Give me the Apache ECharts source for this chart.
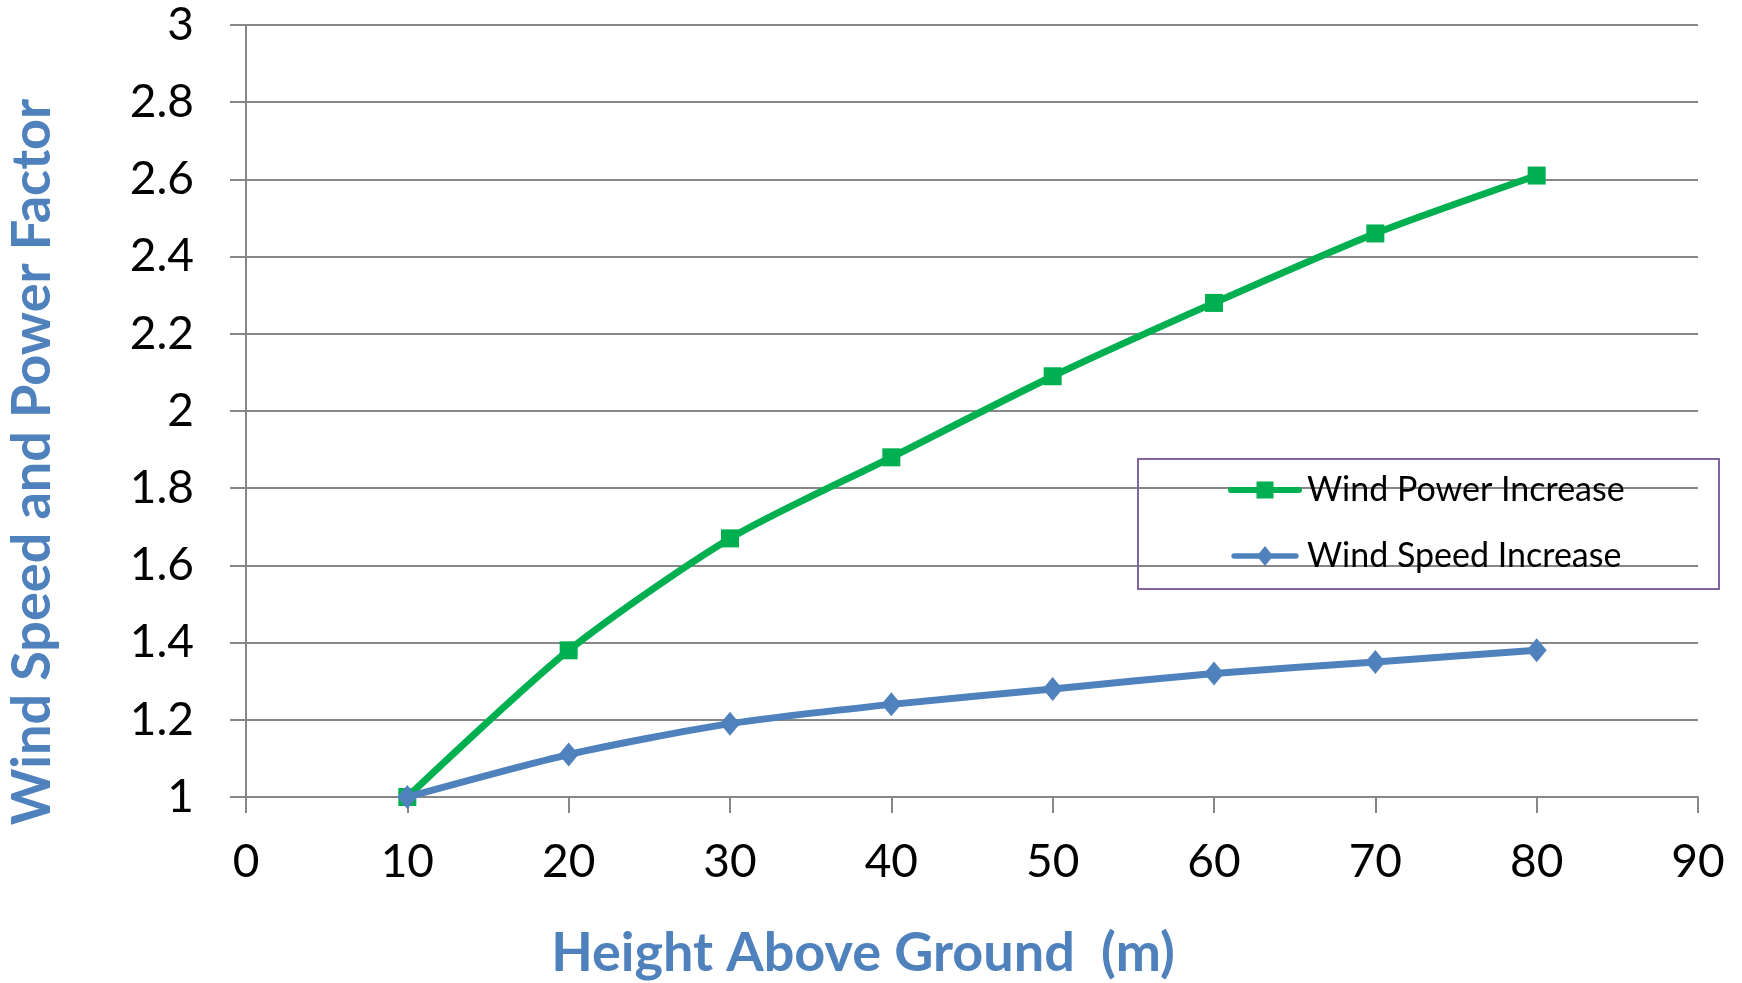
<!DOCTYPE html>
<html>
<head>
<meta charset="utf-8">
<script src="https://cdn.jsdelivr.net/npm/echarts@6/dist/echarts.min.js"></script>
<style>
  html, body { margin: 0; padding: 0; background: #ffffff; }
  #chart { width: 1742px; height: 983px; }
</style>
</head>
<body>
<div id="chart"></div>
<script>
// Height above ground (m)
const heights = [10, 20, 30, 40, 50, 60, 70, 80];
// Factor relative to the 10 m reference height
const windPowerIncrease = [1.00, 1.38, 1.67, 1.88, 2.09, 2.28, 2.46, 2.61];
const windSpeedIncrease = [1.00, 1.11, 1.19, 1.24, 1.28, 1.32, 1.35, 1.38];

const seriesNames = ['Wind Power Increase', 'Wind Speed Increase'];
const xTitle = 'Height Above Ground  (m)';
const yTitle = 'Wind Speed and Power Factor';

const FONT = 'Lato, "Open Sans", sans-serif';
const GREEN = '#00B050';
const BLUE = '#4F81BD';
const GRID_GRAY = '#878787';

// Legend keys: a thick line with the series marker in its middle
const ICON_SQUARE = 'path://M3,7 L71,7 A3,3 0 0 1 71,13 L3,13 A3,3 0 0 1 3,7 Z M28.5,1.5 L45.5,1.5 L45.5,18.5 L28.5,18.5 Z M0,0 L0,0 M74,20 L74,20';
const ICON_DIAMOND = 'path://M3,7 L71,7 A3,3 0 0 1 71,13 L3,13 A3,3 0 0 1 3,7 Z M37,-1 L46,10 L37,21 L28,10 Z';

function pairs(xs, ys) {
  return xs.map((x, i) => [x, ys[i]]);
}

const chart = echarts.init(document.getElementById('chart'), null, { renderer: 'canvas' });

chart.setOption({
  backgroundColor: '#ffffff',
  animation: false,
  grid: {
    left: 246, right: 44, top: 25, bottom: 186,
    containLabel: false,
    outerBoundsMode: 'none'
  },
  xAxis: {
    type: 'value',
    min: 0,
    max: 90,
    interval: 10,
    name: xTitle,
    nameLocation: 'middle',
    nameGap: 130,
    nameTextStyle: {
      color: BLUE, fontFamily: FONT, fontWeight: 'bold', fontSize: 54,
      padding: [0, 218, 0, 0]
    },
    axisLine: { show: true, lineStyle: { color: GRID_GRAY, width: 2 } },
    axisTick: { show: true, length: 16, lineStyle: { color: GRID_GRAY, width: 2 } },
    axisLabel: { color: '#000000', fontFamily: FONT, fontSize: 46, margin: 42 },
    splitLine: { show: false }
  },
  yAxis: {
    type: 'value',
    min: 1,
    max: 3,
    interval: 0.2,
    name: yTitle,
    nameLocation: 'middle',
    nameGap: 186,
    nameRotate: 90,
    nameTextStyle: {
      color: BLUE, fontFamily: FONT, fontWeight: 'bold', fontSize: 54,
      padding: [0, 102, 0, 0]
    },
    axisLine: { show: true, lineStyle: { color: GRID_GRAY, width: 2 } },
    axisTick: { show: true, length: 16, lineStyle: { color: GRID_GRAY, width: 2 } },
    axisLabel: { color: '#000000', fontFamily: FONT, fontSize: 46, margin: 52 },
    splitLine: { show: true, lineStyle: { color: GRID_GRAY, width: 2 } }
  },
  legend: {
    orient: 'vertical',
    left: 1228,
    top: 473,
    itemWidth: 74,
    itemHeight: 20,
    itemGap: 32,
    padding: 0,
    textStyle: { color: '#000000', fontFamily: FONT, fontSize: 34 },
    data: [
      { name: seriesNames[0], icon: ICON_SQUARE, itemStyle: { color: GREEN } },
      { name: seriesNames[1], icon: ICON_DIAMOND, itemStyle: { color: BLUE } }
    ]
  },
  graphic: [{
    type: 'rect',
    shape: { x: 1138, y: 459, width: 581, height: 130 },
    style: { fill: 'none', stroke: '#8064A2', lineWidth: 2 },
    z: 1
  }],
  series: [
    {
      name: seriesNames[0],
      type: 'line',
      data: pairs(heights, windPowerIncrease),
      smooth: 0.25,
      symbol: 'rect',
      symbolSize: 18,
      lineStyle: { color: GREEN, width: 7 },
      itemStyle: { color: GREEN },
      z: 3
    },
    {
      name: seriesNames[1],
      type: 'line',
      data: pairs(heights, windSpeedIncrease),
      smooth: 0.25,
      symbol: 'diamond',
      symbolSize: [20, 24],
      lineStyle: { color: BLUE, width: 7 },
      itemStyle: { color: BLUE },
      z: 4
    }
  ]
});
</script>
</body>
</html>
